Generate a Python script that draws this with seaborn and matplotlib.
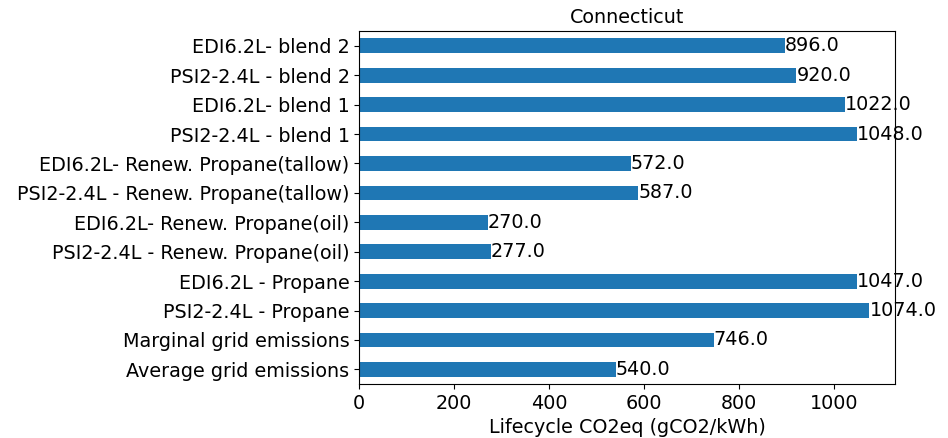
import matplotlib
matplotlib.use('Agg')
import matplotlib.pyplot as plt
import seaborn as sns
import pandas as pd

# data, top to bottom as it appears in the chart
scenarios = [
    'EDI6.2L- blend 2',
    'PSI2-2.4L - blend 2',
    'EDI6.2L- blend 1',
    'PSI2-2.4L - blend 1',
    'EDI6.2L- Renew. Propane(tallow)',
    'PSI2-2.4L - Renew. Propane(tallow)',
    'EDI6.2L- Renew. Propane(oil)',
    'PSI2-2.4L - Renew. Propane(oil)',
    'EDI6.2L - Propane',
    'PSI2-2.4L - Propane',
    'Marginal grid emissions',
    'Average grid emissions',
]
co2 = [896.0, 920.0, 1022.0, 1048.0, 572.0, 587.0, 270.0, 277.0,
       1047.0, 1074.0, 746.0, 540.0]

df = pd.DataFrame({'scenario': scenarios, 'co2': co2})

plt.rcParams['font.size'] = 13.8

fig, ax = plt.subplots(figsize=(9.48, 4.38), dpi=100)
fig.subplots_adjust(left=0.379, right=0.944, top=0.929, bottom=0.123)

sns.barplot(data=df, x='co2', y='scenario', orient='h', color='#1f77b4',
            saturation=1, width=0.5, linewidth=0, ax=ax)

# value labels at the bar ends (drawn under the spine like the original)
for t in ax.bar_label(ax.containers[0], fmt='%.1f', padding=0):
    t.set_zorder(2)

ax.set_xlim(0, max(co2) * 1.05)
ax.set_ylabel('')
ax.set_xlabel('Lifecycle CO2eq (gCO2/kWh)')
ax.set_title('Connecticut', fontsize=13.8)

fig.savefig('out.png', dpi=100)
